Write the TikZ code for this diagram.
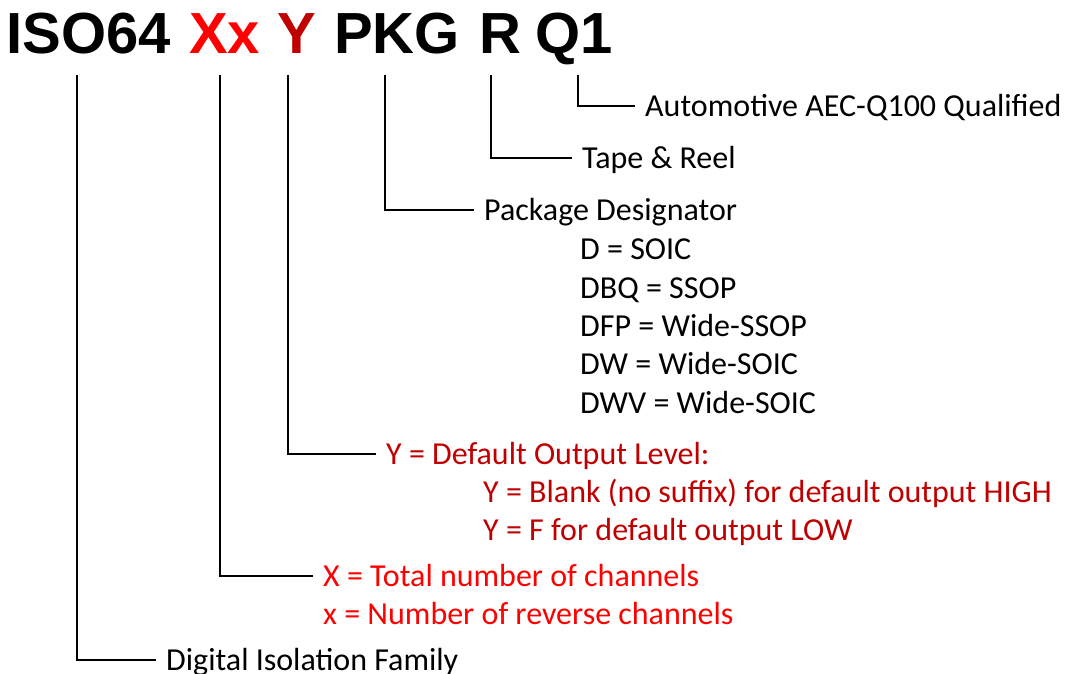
\documentclass[tikz,border=0pt]{standalone}
\usepackage{fontspec}
\setmainfont{Carlito}
\newfontfamily\partfont{Liberation Sans}
\definecolor{isored}{HTML}{FF0000}
\definecolor{isodark}{HTML}{C00000}
\begin{document}
\begin{tikzpicture}[x=1pt, y=-1pt,
    part/.style={anchor=base west, inner sep=0pt, font=\partfont\bfseries\fontsize{58}{58}\selectfont},
    desc/.style={anchor=west, inner sep=0pt, text height=20.5pt, text depth=0pt, font=\fontsize{32}{32}\selectfont},
    lead/.style={line width=2pt, shorten >=10pt} ]
    % --- Part number ---
    \node[part] (iso) at (6, 54) {ISO64};
    \node[part, text=isored] (xx) at (189, 54) {Xx};
    \node[part, text=isodark] (yy) at (277, 54) {Y};
    \node[part] (pkg) at (334, 54) {PKG};
    \node[part] (rr) at (479, 54) {R};
    \node[part] (qq) at (535, 54) {Q1};

    % --- Line tops under each field ---
    \coordinate (tiso) at (77, 75);
    \coordinate (txx) at (220, 75);
    \coordinate (tyy) at (288, 75);
    \coordinate (tpkg) at (385, 75);
    \coordinate (trr) at (491, 75);
    \coordinate (tqq) at (578, 75);

    % --- Descriptions ---
    \node[desc] (auto) at (645, 106) {Automotive AEC-Q100 Qualified};
    \node[desc] (tape) at (582, 158) {Tape \& Reel};
    \node[desc] (pack) at (484, 210) {Package Designator};
    \node[desc] (p1) at (580, 249) {D = SOIC};
    \node[desc] (p2) at (580, 288) {DBQ = SSOP};
    \node[desc] (p3) at (580, 326) {DFP = Wide-SSOP};
    \node[desc] (p4) at (580, 364) {DW = Wide-SOIC};
    \node[desc] (p5) at (580, 403) {DWV = Wide-SOIC};
    \node[desc, text=isodark] (outl) at (386, 454) {Y = Default Output Level:};
    \node[desc, text=isodark] (o1) at (483, 492) {Y = Blank (no suffix) for default output HIGH};
    \node[desc, text=isodark] (o2) at (483, 530) {Y = F for default output LOW};
    \node[desc, text=isored] (chan) at (323, 576) {X = Total number of channels};
    \node[desc, text=isored] (rev) at (323, 614) {x = Number of reverse channels};
    \node[desc] (fam) at (166, 660) {Digital Isolation Family};

    % --- Leaders ---
    \draw[lead] (tqq) |- (auto);
    \draw[lead] (trr) |- (tape);
    \draw[lead] (tpkg) |- (pack);
    \draw[lead] (tyy) |- (outl);
    \draw[lead] (txx) |- (chan);
    \draw[lead] (tiso) |- (fam);

    \useasboundingbox (0, 0) rectangle (1065, 674);
\end{tikzpicture}
\end{document}
